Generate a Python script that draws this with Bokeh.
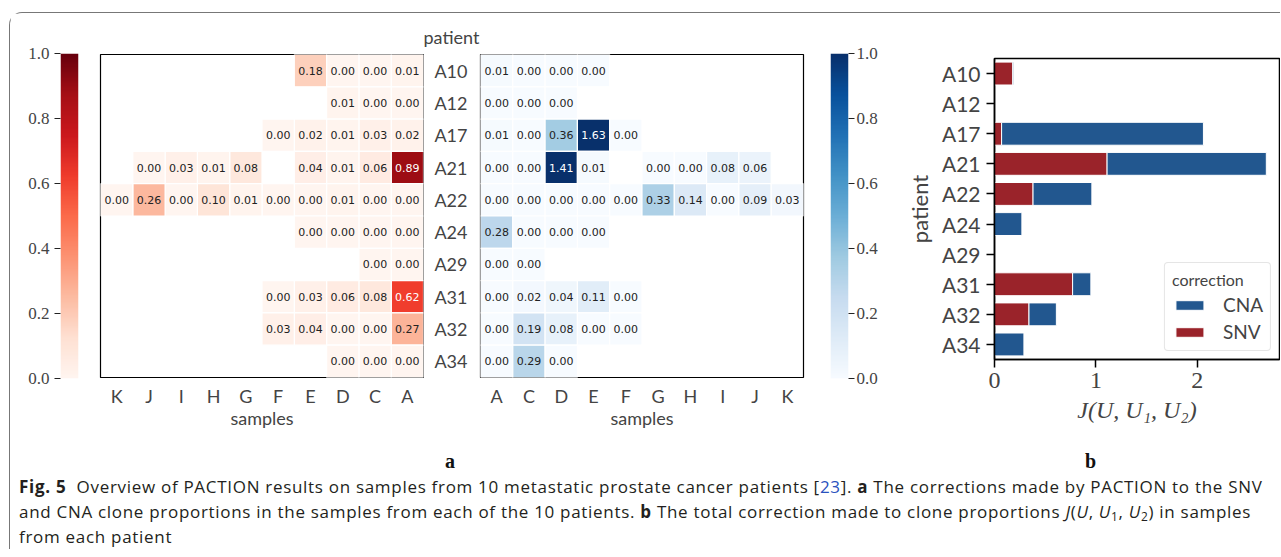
import numpy as np
from bokeh.plotting import figure
from bokeh.models import (ColumnDataSource, FactorRange, Range1d, LinearColorMapper, FixedTicker,
                          PrintfTickFormatter, Legend, LegendItem, Title, Div)
from bokeh.layouts import row, column
from bokeh.palettes import Reds9, Blues9
from bokeh.core.properties import value
from bokeh.embed import file_html
from bokeh.resources import INLINE

# ---------------- data ----------------
patients = ["A10", "A12", "A17", "A21", "A22", "A24", "A29", "A31", "A32", "A34"]
samples = ["A", "C", "D", "E", "F", "G", "H", "I", "J", "K"]
N = None
# SNV corrections, rows = patients, columns = samples (A, C, D, ..., K)
snv = [
    [0.01, 0.00, 0.00, 0.18, N, N, N, N, N, N],
    [0.00, 0.00, 0.01, N, N, N, N, N, N, N],
    [0.02, 0.03, 0.01, 0.02, 0.00, N, N, N, N, N],
    [0.89, 0.06, 0.01, 0.04, N, 0.08, 0.01, 0.03, 0.00, N],
    [0.00, 0.00, 0.01, 0.00, 0.00, 0.01, 0.10, 0.00, 0.26, 0.00],
    [0.00, 0.00, 0.00, 0.00, N, N, N, N, N, N],
    [0.00, 0.00, N, N, N, N, N, N, N, N],
    [0.62, 0.08, 0.06, 0.03, 0.00, N, N, N, N, N],
    [0.27, 0.00, 0.00, 0.04, 0.03, N, N, N, N, N],
    [0.00, 0.00, 0.00, N, N, N, N, N, N, N],
]
# CNA corrections
cna = [
    [0.01, 0.00, 0.00, 0.00, N, N, N, N, N, N],
    [0.00, 0.00, 0.00, N, N, N, N, N, N, N],
    [0.01, 0.00, 0.36, 1.63, 0.00, N, N, N, N, N],
    [0.00, 0.00, 1.41, 0.01, N, 0.00, 0.00, 0.08, 0.06, N],
    [0.00, 0.00, 0.00, 0.00, 0.00, 0.33, 0.14, 0.00, 0.09, 0.03],
    [0.28, 0.00, 0.00, 0.00, N, N, N, N, N, N],
    [0.00, 0.00, N, N, N, N, N, N, N, N],
    [0.00, 0.02, 0.04, 0.11, 0.00, N, N, N, N, N],
    [0.00, 0.19, 0.08, 0.00, 0.00, N, N, N, N, N],
    [0.00, 0.29, 0.00, N, N, N, N, N, N, N],
]
# total correction per patient (panel b)
snv_total = [0.18, 0.00, 0.07, 1.11, 0.38, 0.00, 0.00, 0.77, 0.34, 0.00]
cna_total = [0.01, 0.00, 1.99, 1.57, 0.58, 0.27, 0.00, 0.18, 0.27, 0.29]
cb_ticks = [0.0, 0.2, 0.4, 0.6, 0.8, 1.0]
bar_ticks = [0, 1, 2]

SANS = "Lato"
SERIF = "Liberation Serif"
RED = "#9a232a"
BLUE = "#22578f"


def interp_palette(colors, n=256):
    rgb = np.array([[int(c[i:i + 2], 16) for i in (1, 3, 5)] for c in colors], dtype=float)
    t = np.linspace(0, 1, len(colors))
    tt = np.linspace(0, 1, n)
    out = np.stack([np.interp(tt, t, rgb[:, k]) for k in range(3)], axis=1)
    return ["#%02x%02x%02x" % tuple(int(round(v)) for v in c) for c in out]


reds = interp_palette(list(Reds9)[::-1])
blues = interp_palette(list(Blues9)[::-1])
red_map = LinearColorMapper(palette=reds, low=0, high=1)
blue_map = LinearColorMapper(palette=blues, low=0, high=1)

H = 435


def base_fig(**kw):
    p = figure(toolbar_location=None, output_backend="svg", height=H, **kw)
    p.frame_align = False
    p.background_fill_color = "white"
    p.border_fill_color = "white"
    p.grid.visible = False
    return p


def heatmap(vals, xfactors, mapper, width, left, right):
    xs, ys, vs, ts, tc = [], [], [], [], []
    for i, pt in enumerate(patients):
        for j, s in enumerate(samples):
            v = vals[i][j]
            if v is None:
                continue
            xs.append(s); ys.append(pt); vs.append(v)
            ts.append("%.2f" % v)
            tc.append("white" if v > 0.55 else "#222222")
    src = ColumnDataSource(dict(x=xs, y=ys, v=vs, t=ts, tc=tc))
    p = base_fig(x_range=FactorRange(factors=xfactors), y_range=FactorRange(factors=patients[::-1]),
                 width=width, min_border_left=left, min_border_right=right,
                 min_border_top=41, min_border_bottom=H - 41 - 323)
    p.rect(x="x", y="y", width=1, height=1, source=src,
           fill_color={"field": "v", "transform": mapper}, line_color="white", line_width=1.2)
    p.text(x="x", y="y", text="t", source=src, text_color="tc", text_align="center",
           text_baseline="middle", text_font=value("DejaVu Sans"), text_font_size="11px")
    p.outline_line_color = "black"
    p.outline_line_width = 1.2
    ax = p.xaxis[0]
    ax.axis_label = "samples"
    ax.axis_label_text_font = SANS
    ax.axis_label_text_font_size = "18px"
    ax.axis_label_text_font_style = "normal"
    ax.axis_label_standoff = -3
    ax.major_label_text_font = SANS
    ax.major_label_text_font_size = "18px"
    ax.major_label_standoff = 7
    ax.major_tick_out = 0
    ax.major_tick_in = 0
    ax.major_tick_line_color = None
    ax.minor_tick_line_color = None
    ax.axis_line_color = None
    return p


def colorbar_fig(mapper, width, left, right, loc, standoff):
    p = base_fig(x_range=Range1d(0, 1), y_range=Range1d(0, 1), width=width,
                 min_border_left=left, min_border_right=right,
                 min_border_top=40, min_border_bottom=H - 40 - 325, y_axis_location=loc)
    grad = np.linspace(0, 1, 256).reshape(256, 1)
    p.image(image=[grad], x=0, y=0, dw=1, dh=1, color_mapper=mapper)
    p.outline_line_color = None
    p.xaxis.visible = False
    ax = p.yaxis[0]
    ax.ticker = FixedTicker(ticks=cb_ticks)
    ax.formatter = PrintfTickFormatter(format="%.1f")
    ax.major_tick_out = 6
    ax.major_tick_in = 0
    ax.minor_tick_line_color = None
    ax.axis_line_color = None
    ax.major_tick_line_color = "#222222"
    ax.major_label_text_font = SERIF
    ax.major_label_text_font_size = "17px"
    ax.major_label_standoff = standoff
    return p


# panel a
cb_red = colorbar_fig(red_map, 82, 50, 14, "left", 5)
hm_snv = heatmap(snv, samples[::-1], red_map, 332, 8, 1)
hm_snv.yaxis.visible = False
hm_cna = heatmap(cna, samples, blue_map, 386, 56, 7)
ya = hm_cna.yaxis[0]
ya.major_label_text_font = SANS
ya.major_label_text_font_size = "18px"
ya.major_label_standoff = 13
ya.major_tick_out = 0
ya.major_tick_in = 0
ya.major_tick_line_color = None
ya.minor_tick_line_color = None
ya.axis_line_color = None
hm_cna.add_layout(Title(text="patient", align="left", offset=-57, text_font=SANS,
                        text_font_size="18px", text_font_style="normal", standoff=13), "above")
cb_blue = colorbar_fig(blue_map, 90, 20, 52, "right", 2)

# panel b
bsrc = ColumnDataSource(dict(p=patients, snv=snv_total,
                             tot=list(np.array(snv_total) + np.array(cna_total))))
bp = base_fig(y_range=FactorRange(factors=patients[::-1]), x_range=Range1d(0, 2.81), width=380,
              min_border_left=94, min_border_right=1, min_border_top=45,
              min_border_bottom=H - 45 - 301)
r_snv = bp.hbar(y="p", left=0, right="snv", height=0.76, source=bsrc, fill_color=RED,
                line_color="white", line_width=1)
r_cna = bp.hbar(y="p", left="snv", right="tot", height=0.76, source=bsrc, fill_color=BLUE,
                line_color="white", line_width=1)
bp.outline_line_color = "black"
bp.outline_line_width = 1.5
xa = bp.xaxis[0]
xa.ticker = FixedTicker(ticks=bar_ticks)
xa.major_label_text_font = SERIF
xa.major_label_text_font_size = "24px"
xa.major_tick_out = 8
xa.major_tick_in = 0
xa.major_tick_line_width = 1.5
xa.minor_tick_line_color = None
xa.axis_line_width = 1.5
xa.major_label_standoff = 5
xa.axis_label = "J(U, U\u2081, U\u2082)"
xa.axis_label_text_font = SERIF
xa.axis_label_text_font_size = "24px"
xa.axis_label_text_font_style = "italic"
xa.axis_label_standoff = 6
yb = bp.yaxis[0]
yb.major_label_text_font = SANS
yb.major_label_text_font_size = "21px"
yb.major_tick_out = 8
yb.major_tick_in = 0
yb.major_tick_line_width = 1.5
yb.axis_line_width = 1.5
yb.major_label_standoff = 6
yb.axis_label = "patient"
yb.axis_label_text_font = SANS
yb.axis_label_text_font_size = "22px"
yb.axis_label_text_font_style = "normal"
yb.axis_label_standoff = 6
leg = Legend(items=[LegendItem(label="CNA", renderers=[r_cna]),
                    LegendItem(label="SNV", renderers=[r_snv])],
             location="bottom_right", title="correction")
leg.title_text_font = SANS
leg.title_text_font_size = "16px"
leg.title_text_font_style = "normal"
leg.title_standoff = 4
leg.label_text_font = SANS
leg.label_text_font_size = "19px"
leg.glyph_width = 35
leg.glyph_height = 12
leg.label_standoff = 16
leg.label_height = 21
leg.spacing = 4
leg.padding = 7
leg.margin = 8
leg.border_line_color = "#cccccc"
leg.border_line_width = 1
if "border_radius" in Legend.properties():
    leg.border_radius = 4
bp.add_layout(leg, "center")

top = row(cb_red, hm_snv, hm_cna, cb_blue, bp)

caption_html = """
<div style="position:relative;width:1260px;height:26px;font-family:'Liberation Serif',serif;font-weight:bold;font-size:20px;color:#111;line-height:26px;">
<span style="position:absolute;left:435px;top:0">a</span>
<span style="position:absolute;left:1075px;top:0">b</span>
</div>
<div style="padding-left:9px;white-space:nowrap;font-family:'Open Sans',sans-serif;font-size:17px;letter-spacing:0.7px;line-height:25px;color:#231f20;">
<b>Fig. 5</b>&nbsp; Overview of PACTION results on samples from 10 metastatic prostate cancer patients [<span style="color:#2a52be">23</span>]. <b>a</b> The corrections made by PACTION to the SNV<br>
and CNA clone proportions in the samples from each of the 10 patients. <b>b</b> The total correction made to clone proportions <i>J</i>(<i>U</i>, <i>U</i><sub style="font-size:70%;line-height:0;vertical-align:-0.25em">1</sub>, <i>U</i><sub style="font-size:70%;line-height:0;vertical-align:-0.25em">2</sub>) in samples<br>
from each patient
</div>
"""
cap = Div(text=caption_html, width=1260, height=101, margin=0)

layout = column(top, cap, styles={"border-left": "1px solid #777777", "border-top": "1px solid #777777",
                                  "border-top-left-radius": "13px", "margin-left": "9px",
                                  "margin-top": "12px"})

open("out.html", "w").write(file_html(layout, INLINE))
